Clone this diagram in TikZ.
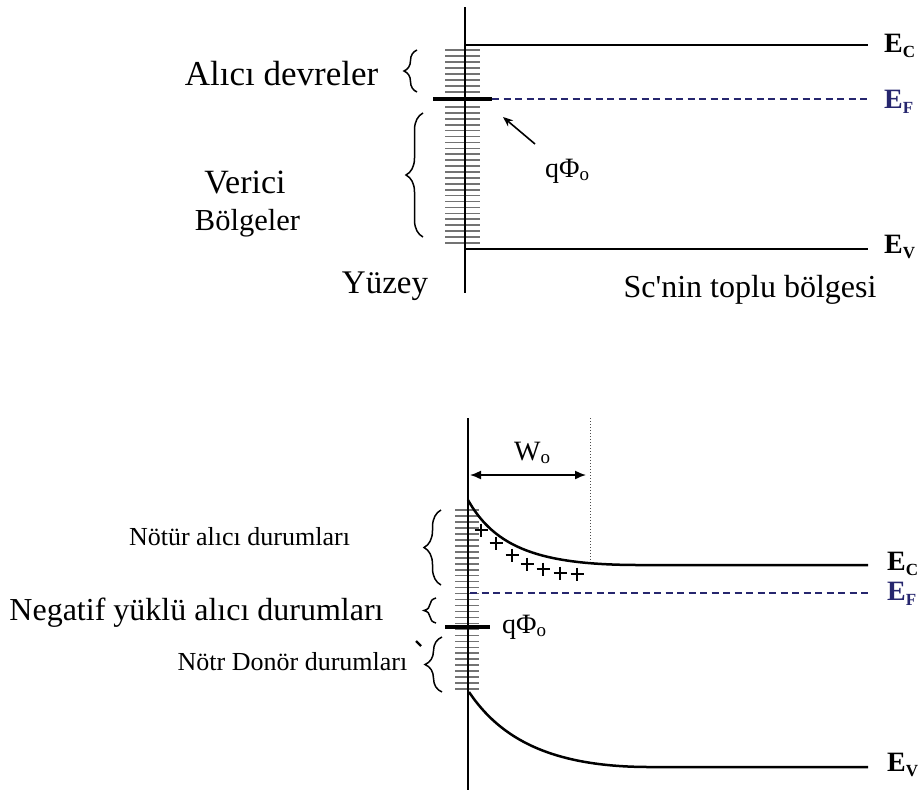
\documentclass[tikz,border=0pt]{standalone}
\usepackage{fontspec}
\setmainfont{Liberation Serif}
\usetikzlibrary{decorations.pathreplacing,arrows.meta}
\definecolor{efblue}{HTML}{26266E}
\newcommand\fsz[1]{\fontsize{#1}{#1}\selectfont}
\newcommand\Elab[1]{\textbf{E}\raisebox{-5pt}{\fsz{17}\textbf{#1}}}
\newcommand\subo{\raisebox{-3pt}{\fsz{19}o}}
\begin{document}
\begin{tikzpicture}[x=1pt,y=-1pt,
  lvl/.style={line width=2.5pt},
  fermi/.style={line width=2.2pt, efblue, dash pattern=on 7pt off 4.5pt},
  surf/.style={line width=2.3pt},
  tickln/.style={line width=1.6pt, black!55},
  bar/.style={line width=4pt},
  brc/.style={decorate, decoration={brace, amplitude=#1}, line width=1.5pt},
  lbl/.style={inner sep=0pt, anchor=base},
  elbl/.style={inner sep=0pt, anchor=base west, font=\fsz{28}},
  plusst/.style={line width=2.4pt}
]
\useasboundingbox[fill=white] (0,0) rectangle (920,796);

% ================= TOP DIAGRAM =================
\coordinate (st) at (465,7);
\coordinate (sb) at (465,293);
\foreach \i in {0,...,7} \draw[tickln] (445,50+\i*6) -- (480,50+\i*6);
\foreach \i in {0,...,23} \draw[tickln] (445,107+\i*5.91) -- (480,107+\i*5.91);
\draw[surf] (st) -- (sb);

\coordinate (ec1a) at (465,45);  \coordinate (ec1b) at (868,45);
\coordinate (ev1a) at (465,249); \coordinate (ev1b) at (868,249);
\coordinate (ef1a) at (433,99);  \coordinate (ef1m) at (492,99); \coordinate (ef1b) at (868,99);
\draw[lvl] (ec1a) -- (ec1b);
\draw[lvl] (ev1a) -- (ev1b);
\draw[bar] (ef1a) -- (ef1m);
\draw[fermi] (ef1m) -- (ef1b);

\node[elbl] (EC1) at (884,52) {\Elab{C}};
\node[elbl, text=efblue] (EF1) at (884,108) {\Elab{F}};
\node[elbl] (EV1) at (884,253) {\Elab{V}};

\draw[brc=13pt] (417,92) -- (417,50);
\draw[brc=17pt] (423,237) -- (423,113);

\node[lbl, font=\fsz{35}] (alici) at (281.5,85) {Alıcı devreler};
\node[lbl, font=\fsz{34}] (verici) at (245,193) {Verici};
\node[lbl, font=\fsz{30.5}] (bolge) at (247.5,230) {Bölgeler};
\node[lbl, font=\fsz{33}] (yuzey) at (385,293) {Yüzey};
\node[lbl, font=\fsz{32}] (sc) at (750,297) {Sc\textquotesingle nin toplu bölgesi};

\node[inner sep=0pt, anchor=base west, font=\fsz{28}] (qphi1) at (545,177) {qΦ\subo};
\coordinate (a1tail) at (535,144); \coordinate (a1tip) at (503,117);
\draw[-{Stealth[length=10pt,width=8pt]}, line width=1.6pt] (a1tail) -- (a1tip);

% ================= BOTTOM DIAGRAM =================
\coordinate (bt) at (468,418);
\coordinate (bb) at (468,790);
\foreach \i in {0,...,30} \draw[tickln] (455,510+\i*5.97) -- (479,510+\i*5.97);
\draw[surf] (bt) -- (bb);

\coordinate (dt) at (590,418); \coordinate (db) at (590,563);
\draw[black!70, line width=1pt, dotted] (dt) -- (db);

\coordinate (ec2a) at (468,500); \coordinate (ec2f) at (640,565); \coordinate (ec2b) at (868,565);
\draw[lvl] (ec2a) .. controls (495,548) and (540,565) .. (ec2f) -- (ec2b);

\coordinate (ev2a) at (469,692); \coordinate (ev2f) at (650,767); \coordinate (ev2b) at (868,767);
\draw[lvl] (ev2a) .. controls (500,738) and (550,767) .. (ev2f) -- (ev2b);

\coordinate (ef2a) at (470,593); \coordinate (ef2b) at (868,593);
\draw[fermi] (ef2a) -- (ef2b);
\coordinate (bar2a) at (445,627); \coordinate (bar2b) at (490,627);
\draw[bar] (bar2a) -- (bar2b);

\foreach \px/\py in {481/530,496/543,512/555,527/564,543/569,560/573,577/574}
  \draw[plusst] (\px-6.5,\py) -- (\px+6.5,\py) (\px,\py-6.5) -- (\px,\py+6.5);

\coordinate (wl) at (470,475); \coordinate (wr) at (586,475);
\draw[{Latex[length=11pt,width=9pt]}-{Latex[length=11pt,width=9pt]}, line width=1.5pt] (wl) -- (wr);
\node[inner sep=0pt, anchor=base west, font=\fsz{28}] (W) at (514,460) {W\subo};

\node[inner sep=0pt, anchor=base west, font=\fsz{28}] (qphi2) at (502,633) {qΦ\subo};

\node[elbl] (EC2) at (887,570) {\Elab{C}};
\node[elbl, text=efblue] (EF2) at (887,600) {\Elab{F}};
\node[elbl] (EV2) at (887,771) {\Elab{V}};

\draw[brc=17pt] (441,585) -- (441,510);
\draw[brc=12pt] (436,623) -- (436,598);
\draw[brc=17pt] (442,692) -- (442,637);
\draw[line width=2.4pt] (416,641) -- (421,646);

\node[lbl, font=\fsz{26}] (notur) at (239.5,545) {Nötür alıcı durumları};
\node[lbl, font=\fsz{32}] (negatif) at (196.5,620) {Negatif yüklü alıcı durumları};
\node[lbl, font=\fsz{26}] (donor) at (292.5,670) {Nötr Donör durumları};
\end{tikzpicture}
\end{document}
